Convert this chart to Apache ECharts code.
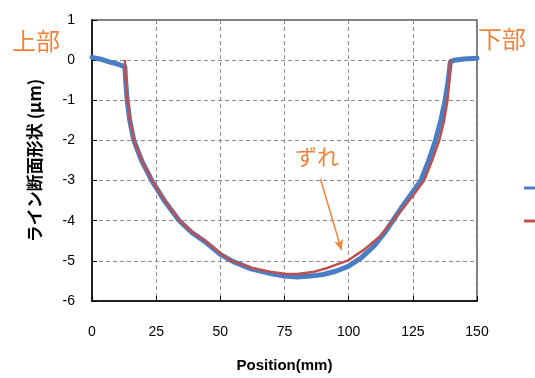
<!DOCTYPE html>
<html>
<head>
<meta charset="utf-8">
<script src="https://cdn.jsdelivr.net/npm/echarts@6/dist/echarts.min.js"></script>
<style>
html,body{margin:0;padding:0;background:#fff;}
#c{width:535px;height:378px;}
</style>
</head>
<body>
<div id="c"></div>
<script>
// Measured profile (blue)
var measuredX = [0, 3, 7, 10, 12.8, 13.1, 13.7, 14.7, 16.3, 19.3, 23.3, 28.2, 34, 39, 44, 50, 55, 62, 70, 75, 80, 85, 90, 95, 100, 105, 110, 114, 117, 121, 125, 128.1, 131.2, 133.8, 135.9, 137.6, 138.8, 139.6, 141, 145, 150];
var measuredY = [0.07, 0.03, -0.05, -0.1, -0.16, -0.5, -1, -1.5, -2, -2.5, -3, -3.5, -4, -4.3, -4.52, -4.84, -5.02, -5.2, -5.32, -5.38, -5.4, -5.38, -5.34, -5.26, -5.13, -4.92, -4.62, -4.3, -4.02, -3.64, -3.28, -3, -2.5, -2, -1.5, -1, -0.5, -0.05, 0.0, 0.03, 0.05];
// Fitted profile (red)
var fitX = [12.8, 13.2, 13.8, 14.8, 16.4, 19.4, 23.4, 28.3, 34.2, 39, 44, 50, 54.3, 62, 70, 75, 80, 86, 92, 100, 106, 112, 117.1, 121, 125, 129.4, 132.5, 135.3, 137.2, 138.5, 139.2, 139.5];
var fitY = [-0.02, -0.5, -1, -1.5, -2, -2.5, -3, -3.5, -4, -4.28, -4.5, -4.81, -5, -5.17, -5.28, -5.32, -5.33, -5.28, -5.17, -4.98, -4.72, -4.4, -4, -3.7, -3.38, -3, -2.5, -2, -1.5, -1, -0.5, 0];
var xTicks = [0, 25, 50, 75, 100, 125, 150];
var yTicks = [1, 0, -1, -2, -3, -4, -5, -6];
var seriesNames = ['実測', '近似'];
var arrowFrom = [89, -2.96];
var arrowTo = [97.2, -4.73];

function pairs(xs, ys) { return xs.map(function (x, i) { return [x, ys[i]]; }); }

var chart = echarts.init(document.getElementById('c'));
var orange = '#F28237';
var gridLine = { show: true, lineStyle: { color: '#8a8a8a', type: [4, 3], width: 1 } };
chart.setOption({
  animation: false,
  textStyle: { fontFamily: 'Liberation Sans, Arial, sans-serif' },
  grid: { left: 92, right: 58, top: 20, bottom: 77, show: true, borderColor: '#555', borderWidth: 1.5 },
  legend: [
    { data: [seriesNames[0]], left: 519, top: 177, icon: 'rect', itemWidth: 20, itemHeight: 3, textStyle: { fontSize: 12, color: '#000' } },
    { data: [seriesNames[1]], left: 519, top: 210, icon: 'rect', itemWidth: 20, itemHeight: 3, textStyle: { fontSize: 12, color: '#000' } }
  ],
  xAxis: {
    type: 'value', min: xTicks[0], max: xTicks[xTicks.length - 1], interval: 25,
    name: 'Position(mm)', nameLocation: 'middle', nameGap: 57,
    nameTextStyle: { fontSize: 15, fontWeight: 'bold', color: '#000' },
    axisLine: { show: true, onZero: false, lineStyle: { color: '#000', width: 1.5 } },
    axisTick: { show: true, inside: true, length: 5, lineStyle: { color: '#000' } },
    axisLabel: { fontSize: 14, color: '#000', margin: 24 },
    splitLine: gridLine
  },
  yAxis: {
    type: 'value', min: yTicks[yTicks.length - 1], max: yTicks[0], interval: 1,
    name: 'ライン断面形状 (μm)', nameLocation: 'middle', nameGap: 49,
    nameTextStyle: { fontSize: 17, fontWeight: 'bold', color: '#000', fontFamily: 'Noto Sans CJK JP' },
    axisLine: { show: true, onZero: false, lineStyle: { color: '#000', width: 1.5 } },
    axisTick: { show: true, inside: true, length: 5, lineStyle: { color: '#000' } },
    axisLabel: { fontSize: 14, color: '#000', margin: 17 },
    splitLine: gridLine
  },
  series: [
    {
      name: seriesNames[0], type: 'line', data: pairs(measuredX, measuredY),
      showSymbol: false, smooth: false,
      lineStyle: { color: '#4A7DC4', width: 5, join: 'round', cap: 'round' }, itemStyle: { color: '#4A7DC4' }
    },
    {
      name: seriesNames[1], type: 'line', data: pairs(fitX, fitY),
      showSymbol: false, smooth: false,
      lineStyle: { color: '#C0504D', width: 2.5, join: 'round', cap: 'round' }, itemStyle: { color: '#C0504D' },
      markLine: {
        silent: true, symbol: ['none', 'arrow'], symbolSize: [7, 10],
        label: { show: false },
        lineStyle: { color: orange, width: 1.5, type: 'solid' },
        data: [[{ coord: arrowFrom }, { coord: arrowTo }]]
      }
    }
  ],
  graphic: [
    { type: 'text', left: 12, top: 29, style: { text: '上部', fontSize: 24, fill: orange, fontFamily: 'Noto Sans CJK JP' } },
    { type: 'text', left: 478, top: 27, style: { text: '下部', fontSize: 24, fill: orange, fontFamily: 'Noto Sans CJK JP' } },
    { type: 'text', left: 295, top: 146, style: { text: 'ずれ', fontSize: 22, fill: orange, fontFamily: 'Noto Sans CJK JP' } }
  ]
});
</script>
</body>
</html>
